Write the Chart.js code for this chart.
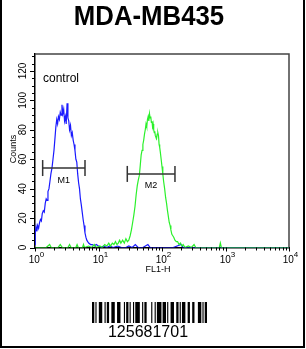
<!DOCTYPE html>
<html>
<head>
<meta charset="utf-8">
<script src="https://cdn.jsdelivr.net/npm/chart.js@4.4.1/dist/chart.umd.min.js"></script>
<style>
  html, body { margin: 0; padding: 0; background: #fff; overflow: hidden; }
  canvas { display: block; }
</style>
</head>
<body>
<canvas id="grafico" width="306" height="349"></canvas>
<script>
// Histograma control (azul)
const blueX = [1.00, 1.01, 1.04, 1.07, 1.10, 1.14, 1.18, 1.22, 1.26, 1.30, 1.35, 1.40, 1.45, 1.50, 1.55, 1.60, 1.66, 1.72, 1.78, 1.85, 1.92, 1.99, 2.06, 2.13, 2.20, 2.27, 2.34, 2.42, 2.50, 2.58, 2.66, 2.74, 2.83, 2.92, 3.01, 3.10, 3.20, 3.30, 3.40, 3.50, 3.62, 3.74, 3.86, 3.99, 4.12, 4.26, 4.40, 4.55, 4.70, 4.86, 5.02, 5.19, 5.36, 5.54, 5.73, 5.92, 6.12, 6.33, 6.54, 6.76, 7.0, 7.5, 8.0, 8.6, 9.2, 10, 11, 12, 13.5, 15, 17, 20, 23, 27, 30, 34, 38, 42, 50, 60, 65, 100, 150, 200, 215, 10000];
const blueY = [2, 10, 14, 11, 15, 13, 17, 19, 18, 23, 25, 24, 30, 33, 32, 38, 40, 45, 50, 54, 60, 66, 74, 82, 87, 84, 89, 87, 92, 90, 97, 91, 94, 86, 89, 84, 98, 88, 86, 80, 83, 76, 78, 73, 70, 66, 60, 58, 50, 44, 40, 33, 29, 24, 19, 15, 10, 7, 5, 4, 3, 2, 2, 1, 2, 1, 0, 1, 0, 1, 0, 1, 0, 0, 1, 0, 2, 0, 0, 2, 0, 0, 0, 2, 0, 0];

// Histograma muestra (verde)
const greenX = [1, 1.5, 1.7, 1.8, 2.3, 2.5, 2.7, 3.3, 3.5, 3.7, 4.4, 4.6, 4.8, 5.6, 5.8, 6.0, 7.0, 7.8, 8.6, 9.2, 10.5, 11.5, 12.5, 13.5, 14.5, 15.5, 16.5, 17.5, 18.5, 19.5, 20.5, 21.5, 22.5, 24, 25.5, 27, 28.5, 30, 31.5, 33, 34.5, 36, 37.6, 39.2, 40.8, 42.4, 44, 45.5, 47, 48.5, 50, 51.5, 53, 54.5, 56, 57.5, 59, 60.5, 62, 63.5, 65, 66.5, 68, 69.5, 71, 72.5, 74, 75.5, 77, 78.5, 80, 82, 84, 86, 88, 90, 92, 94, 97, 100, 103, 106, 110, 114, 118, 122, 126, 130, 134, 138, 143, 148, 153, 160, 168, 176, 185, 195, 205, 215, 230, 260, 290, 320, 340, 420, 800, 830, 860, 10000];
const greenY = [0, 0, 2, 0, 0, 2, 0, 0, 2, 0, 0, 2, 0, 0, 2, 0, 1, 0, 2, 0, 1, 0, 2, 1, 3, 1, 3, 2, 4, 2, 3, 5, 3, 5, 3, 6, 4, 5, 8, 12, 17, 22, 28, 36, 42, 46, 49, 56, 63, 66, 70, 73, 77, 80, 84, 82, 87, 89, 86, 91, 88, 89, 85, 86, 82, 84, 80, 78, 79, 76, 75, 74, 77, 78, 76, 70, 68, 65, 60, 55, 50, 45, 40, 34, 30, 25, 21, 17, 15, 12, 9, 8, 7, 5, 4, 4, 2, 3, 1, 2, 0, 1, 0, 2, 0, 0, 0, 3, 0, 0];

// Marcadores
const m1X = [1.32, 6.13];
const m1Y = [54, 54];
const m2X = [28.4, 160];
const m2Y = [50, 50];

// Ejes
const yTicks = [0, 20, 40, 60, 80, 100, 120];
const xExponents = [0, 1, 2, 3, 4];
const yMax = 131.5;

const titulo = "MDA-MB435";
const codigo = "125681701";
// Code 128: start C, 12, 56, 81, 70, code B, "1", checksum, stop
const barras = ["211232", "112232", "331121", "121142", "112412", "114131", "123221", "113222", "2331112"];

function puntos(xs, ys) {
    return xs.map((x, i) => ({ x: x, y: ys[i] }));
}

const decorado = {
    id: 'decorado',
    afterDraw: (chart) => {
        const { ctx, chartArea } = chart;
        const sx = chart.scales.x;
        const sy = chart.scales.y;
        const fuente = '"Liberation Sans", Arial, sans-serif';
        ctx.save();

        // marco del grafico (arriba y derecha)
        ctx.strokeStyle = '#444';
        ctx.lineWidth = 1.5;
        ctx.beginPath();
        ctx.moveTo(chartArea.left, chartArea.top);
        ctx.lineTo(chartArea.right, chartArea.top);
        ctx.lineTo(chartArea.right, chartArea.bottom);
        ctx.stroke();

        // ticks del eje y (mayores y menores)
        ctx.strokeStyle = '#000';
        ctx.lineWidth = 1;
        for (let v = 0; v <= 130; v += 5) {
            const y = Math.round(sy.getPixelForValue(v)) + 0.5;
            const largo = v % 20 === 0 ? 5 : 3;
            ctx.beginPath();
            ctx.moveTo(chartArea.left - largo, y);
            ctx.lineTo(chartArea.left, y);
            ctx.stroke();
        }
        ctx.fillStyle = '#000';
        ctx.font = '10px ' + fuente;
        ctx.textAlign = 'center';
        ctx.textBaseline = 'middle';
        yTicks.forEach(v => {
            const y = sy.getPixelForValue(v);
            ctx.save();
            ctx.translate(23.5, y);
            ctx.rotate(-Math.PI / 2);
            ctx.fillText(String(v), 0, 0);
            ctx.restore();
        });

        // ticks del eje x (logaritmico)
        xExponents.forEach(e => {
            const base = Math.pow(10, e);
            const x = Math.round(sx.getPixelForValue(base)) + 0.5;
            ctx.beginPath();
            ctx.moveTo(x, chartArea.bottom);
            ctx.lineTo(x, chartArea.bottom + 4);
            ctx.stroke();
            if (e < 4) {
                for (let k = 2; k <= 9; k++) {
                    const xm = Math.round(sx.getPixelForValue(base * k)) + 0.5;
                    ctx.beginPath();
                    ctx.moveTo(xm, chartArea.bottom);
                    ctx.lineTo(xm, chartArea.bottom + 3);
                    ctx.stroke();
                }
            }
            // etiqueta 10^e
            ctx.font = '10px ' + fuente;
            const w1 = ctx.measureText('10').width;
            ctx.font = '8px ' + fuente;
            const w2 = ctx.measureText(String(e)).width;
            const x0 = x + 1 - (w1 + w2) / 2;
            ctx.textAlign = 'left';
            ctx.textBaseline = 'alphabetic';
            ctx.font = '10px ' + fuente;
            ctx.fillText('10', x0, 263);
            ctx.font = '8px ' + fuente;
            ctx.fillText(String(e), x0 + w1, 257);
        });

        // titulos de ejes
        ctx.textAlign = 'center';
        ctx.textBaseline = 'middle';
        ctx.font = '9px ' + fuente;
        ctx.fillText('FL1-H', 158, 270);
        ctx.save();
        ctx.translate(13.5, 149);
        ctx.rotate(-Math.PI / 2);
        ctx.fillText('Counts', 0, 0);
        ctx.restore();

        // etiquetas
        ctx.textAlign = 'left';
        ctx.font = '12px ' + fuente;
        ctx.fillText('control', 43, 79);
        ctx.textAlign = 'center';
        ctx.font = '9px ' + fuente;
        const c1 = Math.sqrt(m1X[0] * m1X[1]);
        const c2 = Math.sqrt(m2X[0] * m2X[1]);
        ctx.fillText('M1', sx.getPixelForValue(c1), sy.getPixelForValue(m1Y[0]) + 12);
        ctx.fillText('M2', sx.getPixelForValue(c2), sy.getPixelForValue(m2Y[0]) + 12);

        // titulo
        ctx.save();
        ctx.font = 'bold 28px ' + fuente;
        ctx.textBaseline = 'alphabetic';
        ctx.translate(149, 25);
        ctx.scale(0.92, 1);
        ctx.fillText(titulo, 0, 0);
        ctx.restore();

        // codigo de barras
        const mods = barras.join('').split('').reduce((a, b) => a + Number(b), 0);
        const anchoModulo = 115 / mods;
        let bx = 92;
        let negro = true;
        barras.join('').split('').forEach(d => {
            const w = Number(d) * anchoModulo;
            if (negro) ctx.fillRect(bx, 302, w, 21);
            bx += w;
            negro = !negro;
        });
        ctx.font = '16px ' + fuente;
        ctx.textAlign = 'center';
        ctx.textBaseline = 'alphabetic';
        ctx.fillText(codigo, 148, 337);

        // borde exterior
        ctx.lineWidth = 2;
        ctx.strokeStyle = '#000';
        ctx.beginPath();
        ctx.moveTo(1, 0);
        ctx.lineTo(1, 347);
        ctx.lineTo(304, 347);
        ctx.lineTo(304, 0);
        ctx.stroke();

        ctx.restore();
    }
};

new Chart(document.getElementById('grafico').getContext('2d'), {
    type: 'line',
    data: {
        datasets: [
            {
                data: puntos(m1X, m1Y),
                borderColor: '#333',
                borderWidth: 1.5,
                pointStyle: 'line',
                pointRotation: 90,
                pointRadius: 8,
                pointBorderColor: '#333',
                pointBorderWidth: 1.5,
                clip: false
            },
            {
                data: puntos(m2X, m2Y),
                borderColor: '#333',
                borderWidth: 1.5,
                pointStyle: 'line',
                pointRotation: 90,
                pointRadius: 8,
                pointBorderColor: '#333',
                pointBorderWidth: 1.5,
                clip: false
            },
            {
                data: puntos(greenX, greenY),
                borderColor: '#2bf02b',
                borderWidth: 1.2,
                pointRadius: 0,
                tension: 0
            },
            {
                data: puntos(blueX, blueY),
                borderColor: '#1a1aff',
                borderWidth: 1.2,
                pointRadius: 0,
                tension: 0
            }
        ]
    },
    options: {
        responsive: false,
        devicePixelRatio: 1,
        animation: false,
        events: [],
        layout: { padding: { left: 35, right: 17, top: 54, bottom: 101.5 } },
        plugins: { legend: false, tooltip: false },
        scales: {
            x: {
                type: 'logarithmic',
                min: 1,
                max: 10000,
                grid: { display: false, drawTicks: false },
                ticks: { display: false },
                border: { display: true, color: '#000', width: 1.5 }
            },
            y: {
                type: 'linear',
                min: 0,
                max: yMax,
                grid: { display: false, drawTicks: false },
                ticks: { display: false },
                border: { display: true, color: '#000', width: 1.5 }
            }
        }
    },
    plugins: [decorado]
});
</script>
</body>
</html>
